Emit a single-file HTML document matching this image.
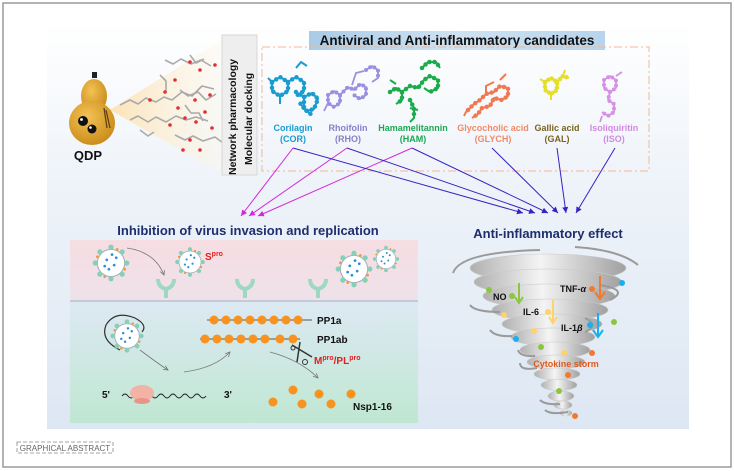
<!DOCTYPE html>
<html><head><meta charset="utf-8"><style>
html,body{margin:0;padding:0;background:#fff}
svg{display:block}
text{font-family:"Liberation Sans",Arial,sans-serif}
</style></head><body>
<svg width="734" height="471" viewBox="0 0 734 471" xmlns="http://www.w3.org/2000/svg">
<defs>
<linearGradient id="bg" x1="0" y1="0" x2="0" y2="1"><stop offset="0" stop-color="#ffffff"/><stop offset="0.4" stop-color="#eef3f9"/><stop offset="1" stop-color="#dde7f3"/></linearGradient>
<linearGradient id="pink" x1="0" y1="0" x2="0" y2="1"><stop offset="0" stop-color="#f6dde2"/><stop offset="1" stop-color="#eee2ea"/></linearGradient>
<linearGradient id="green" x1="0" y1="0" x2="0" y2="1"><stop offset="0" stop-color="#dde9f3"/><stop offset="1" stop-color="#bfe7d2"/></linearGradient>
<linearGradient id="bar" x1="0" y1="0" x2="1" y2="0"><stop offset="0" stop-color="#a9cbe6"/><stop offset="0.5" stop-color="#cfe2f2"/><stop offset="1" stop-color="#b7d4ec"/></linearGradient>
<linearGradient id="cone" x1="0" y1="0" x2="1" y2="0"><stop offset="0" stop-color="#fbe3b5"/><stop offset="1" stop-color="#fff7e8" stop-opacity="0.3"/></linearGradient>
<radialGradient id="gourd" cx="0.4" cy="0.35" r="0.7"><stop offset="0" stop-color="#f3c255"/><stop offset="1" stop-color="#c88a18"/></radialGradient>
<linearGradient id="torn" x1="0" y1="0" x2="1" y2="0"><stop offset="0" stop-color="#b0b0b0"/><stop offset="0.45" stop-color="#f4f4f4"/><stop offset="1" stop-color="#a0a0a0"/></linearGradient>
<marker id="am" markerWidth="8" markerHeight="8" refX="6" refY="3" orient="auto"><path d="M0,0 L6,3 L0,6 z" fill="#d22ad8"/></marker>
<marker id="ab" markerWidth="8" markerHeight="8" refX="6" refY="3" orient="auto"><path d="M0,0 L6,3 L0,6 z" fill="#3a22c0"/></marker>
<marker id="ag" markerWidth="8" markerHeight="8" refX="6" refY="3" orient="auto"><path d="M0,0 L6,3 L0,6" fill="none" stroke="#777" stroke-width="1"/></marker>
<g id="virus">
 <circle r="13" fill="#fff" stroke="#aab" stroke-width="1"/>
 <g fill="#86d0b8"><circle cx="0" cy="-15" r="2.5"/><circle cx="0" cy="15" r="2.5"/><circle cx="15" cy="0" r="2.5"/><circle cx="-15" cy="0" r="2.5"/><circle cx="10.6" cy="10.6" r="2.5"/><circle cx="-10.6" cy="10.6" r="2.5"/><circle cx="10.6" cy="-10.6" r="2.5"/><circle cx="-10.6" cy="-10.6" r="2.5"/></g>
 <g fill="#f09a3a"><circle cx="6" cy="-13" r="1.3"/><circle cx="-6" cy="13" r="1.3"/><circle cx="13" cy="6" r="1.3"/><circle cx="-13" cy="-6" r="1.3"/></g>
 <g fill="#2a8fd8"><circle cx="-4" cy="-3" r="1.3"/><circle cx="3" cy="2" r="1.3"/><circle cx="-2" cy="6" r="1.3"/><circle cx="5" cy="-5" r="1.3"/><circle cx="-6" cy="3" r="1.3"/><circle cx="1" cy="-8" r="1.3"/></g>
</g>
<g id="rec"><path d="M-8,-8 Q-8,0 0,2 Q8,0 8,-8" fill="none" stroke="#9ed8c0" stroke-width="4"/><rect x="-2" y="1" width="4" height="10" fill="#9ed8c0"/></g>
</defs>

<rect x="3" y="3" width="728" height="464" fill="#fff" stroke="#9a9a9a" stroke-width="1.5"/>
<rect x="47" y="22" width="642" height="407" fill="url(#bg)"/>

<!-- gourd & cone -->
<polygon points="110,110 225,38 225,175" fill="url(#cone)"/>
<g stroke="#aaa" stroke-width="1.6" fill="none" stroke-linejoin="round">
 <path d="M120,105 l10,-5 l8,4 l8,-6 l10,4 l8,-5 l8,3 l10,-8 l10,4 l10,-10 l12,3"/>
 <path d="M130,120 l8,-4 l10,6 l8,-5 l10,5 l10,-6 l10,4 l10,-3 l12,4"/>
 <path d="M165,60 l8,4 l8,-5 l10,5 l10,-4 l10,6 M190,55 l6,8 l8,-4"/>
 <path d="M175,135 l10,5 l8,-4 l10,5 l12,-4 l8,6"/>
 <path d="M180,90 l8,6 l10,-4 l8,8 l10,-6 M185,105 l6,8 l8,0 l4,8"/>
 <path d="M160,75 l6,6 l0,10 M140,130 l8,6 l6,-4"/>
</g>
<g fill="#e03030">
 <circle cx="190" cy="62" r="1.8"/><circle cx="200" cy="70" r="1.8"/><circle cx="215" cy="65" r="1.8"/><circle cx="195" cy="100" r="1.8"/><circle cx="205" cy="112" r="1.8"/><circle cx="185" cy="118" r="1.8"/><circle cx="212" cy="128" r="1.8"/><circle cx="190" cy="140" r="1.8"/><circle cx="200" cy="150" r="1.8"/><circle cx="165" cy="92" r="1.8"/><circle cx="175" cy="80" r="1.8"/><circle cx="150" cy="100" r="1.8"/><circle cx="210" cy="95" r="1.8"/><circle cx="183" cy="150" r="1.8"/><circle cx="178" cy="108" r="1.8"/><circle cx="196" cy="122" r="1.8"/><circle cx="170" cy="125" r="1.8"/>
</g>
<rect x="92" y="72" width="5" height="6" fill="#222"/>
<ellipse cx="94" cy="96" rx="13" ry="17" fill="url(#gourd)"/>
<ellipse cx="92" cy="123" rx="23" ry="22" fill="url(#gourd)"/>
<circle cx="83" cy="121" r="5" fill="#111"/><circle cx="92" cy="129" r="4.5" fill="#111"/>
<circle cx="81.5" cy="119.5" r="1.4" fill="#fff"/><circle cx="90.5" cy="127.5" r="1.3" fill="#fff"/>
<path d="M104,108 l3,20 M106,110 l4,18" stroke="#5a3a10" stroke-width="1.2"/>
<text x="88" y="160" font-size="13" font-weight="bold" text-anchor="middle" fill="#111">QDP</text>

<!-- network box -->
<rect x="222" y="35" width="35" height="140" fill="#eeeeee" stroke="#d8d8d8"/>
<text transform="translate(236,175) rotate(-90)" font-size="10.5" font-weight="bold" fill="#111">Network  pharmacology</text>
<text transform="translate(252,165) rotate(-90)" font-size="10.5" font-weight="bold" fill="#111">Molecular  docking</text>

<!-- title bar -->
<rect x="309" y="31" width="296" height="19" fill="url(#bar)"/>
<text x="457" y="45" font-size="13.5" font-weight="bold" text-anchor="middle" fill="#111">Antiviral and Anti-inflammatory  candidates</text>
<rect x="262" y="47" width="387" height="124" fill="none" stroke="#f3b993" stroke-width="1" stroke-dasharray="8,3,2,3"/>

<!-- molecules -->
<g fill="none" stroke-linejoin="round">
 <g stroke="#1a9ccf">
  <path stroke-width="2" d="M272,82 l8,-5 l8,5 l0,9 l-8,5 l-8,-5z M288,82 l8,-5 l8,5 l0,9 l-8,5 M296,92 l8,5 l8,-4 l6,6 l-4,10 l-8,2 l-6,-8 M296,68 l5,-6 l6,4 M304,97 l0,12 l8,6 M280,96 l0,8 M272,82 l-4,-4"/>
  <path stroke-width="4.5" stroke-linecap="round" stroke-dasharray="0 5" d="M272,82 l8,-5 l8,5 l0,9 l-8,5 l-8,-5z M288,82 l8,-5 l8,5 l0,9 l-8,5 M296,92 l8,5 l8,-4 l6,6 l-4,10 l-8,2 l-6,-8 M304,97 l0,12 l8,6"/>
 </g>
 <g stroke="#9a8fe0">
  <path stroke-width="1.8" d="M328,95 l6,-4 l6,4 l0,8 l-6,4 l-6,-4z M340,95 l8,-8 l6,3 l6,-6 l6,3 l0,8 l-6,4 l-6,-4 M352,85 l4,-12 l8,-2 M366,70 l6,-4 l6,4 l0,8 l-6,4 M328,103 l-4,8"/>
  <path stroke-width="4" stroke-linecap="round" stroke-dasharray="0 5" d="M328,95 l6,-4 l6,4 l0,8 l-6,4 l-6,-4z M340,95 l8,-8 l6,3 l6,-6 l6,3 l0,8 l-6,4 l-6,-4 M366,70 l6,-4 l6,4 l0,8"/>
 </g>
 <g stroke="#1bab4a">
  <path stroke-width="2" d="M390,92 l6,-4 l6,4 l0,8 l-6,4 M402,92 l8,-6 l8,2 l6,-8 l6,-4 l8,4 l0,8 l-8,4 l-6,-4 M410,100 l4,8 l0,10 l-4,4 M396,84 l-6,-4 M422,68 l6,-6 l8,0 l4,6 M410,108 l8,2"/>
  <path stroke-width="4.5" stroke-linecap="round" stroke-dasharray="0 5" d="M390,92 l6,-4 l6,4 l0,8 l-6,4 M402,92 l8,-6 l8,2 l6,-8 l6,-4 l8,4 l0,8 l-8,4 M410,100 l4,8 l0,10 M422,68 l6,-6 l8,0 l4,6"/>
 </g>
 <g stroke="#ee7a54">
  <path stroke-width="2" d="M468,110 l6,-6 l6,-4 l6,-6 l8,-2 l6,-6 l8,2 l0,8 l-6,4 l-8,-2 l-4,8 l-8,2 l-4,6 l-6,4 M500,80 l6,-6 M486,94 l0,-8 l8,-4 M470,108 l-4,4 l-2,4"/>
  <path stroke-width="4.5" stroke-linecap="round" stroke-dasharray="0 5" d="M468,110 l6,-6 l6,-4 l6,-6 l8,-2 l6,-6 l8,2 l0,8 l-6,4 l-8,-2 l-4,8 l-8,2 l-4,6 l-6,4"/>
 </g>
 <g stroke="#e6df2a">
  <path stroke-width="2" d="M545,82 l6,-4 l6,4 l0,8 l-6,4 l-6,-4z M557,82 l6,-6 l6,2 M551,94 l0,6 M563,76 l2,-6 M545,82 l-5,-3"/>
  <path stroke-width="4.5" stroke-linecap="round" stroke-dasharray="0 4" d="M545,82 l6,-4 l6,4 l0,8 l-6,4 l-6,-4z M557,82 l6,-6 l6,2"/>
 </g>
 <g stroke="#d690e6">
  <path stroke-width="1.8" d="M604,80 l6,-4 l6,4 l0,8 l-6,4 l-6,-4z M610,92 l-2,8 l6,4 l0,8 l-6,4 l-6,-4 M616,76 l6,-4 M602,116 l-2,6"/>
  <path stroke-width="4" stroke-linecap="round" stroke-dasharray="0 5" d="M604,80 l6,-4 l6,4 l0,8 l-6,4 l-6,-4z M610,92 l-2,8 l6,4 l0,8 l-6,4 l-6,-4"/>
 </g>
</g>
<g font-size="9" font-weight="bold" text-anchor="middle">
 <text x="293" y="131" fill="#1a9ccf">Corilagin</text><text x="293" y="142" fill="#1a9ccf">(COR)</text>
 <text x="348" y="131" fill="#8a7ec8">Rhoifolin</text><text x="348" y="142" fill="#8a7ec8">(RHO)</text>
 <text x="413" y="131" fill="#1aa850">Hamamelitannin</text><text x="413" y="142" fill="#1aa850">(HAM)</text>
 <text x="493" y="131" fill="#f08a68">Glycocholic acid</text><text x="493" y="142" fill="#f08a68">(GLYCH)</text>
 <text x="557" y="131" fill="#7a6420">Gallic acid</text><text x="557" y="142" fill="#7a6420">(GAL)</text>
 <text x="614" y="131" fill="#d28ae0">Isoliquiritin</text><text x="614" y="142" fill="#d28ae0">(ISO)</text>
</g>

<!-- arrows -->
<g stroke="#d22ad8" stroke-width="1" fill="none" marker-end="url(#am)">
 <line x1="293" y1="148" x2="241" y2="216"/>
 <line x1="347" y1="148" x2="249" y2="216"/>
 <line x1="412" y1="148" x2="258" y2="216"/>
</g>
<g stroke="#3a22c0" stroke-width="1" fill="none" marker-end="url(#ab)">
 <line x1="293" y1="148" x2="523" y2="213"/>
 <line x1="347" y1="148" x2="535" y2="213"/>
 <line x1="412" y1="148" x2="548" y2="213"/>
 <line x1="492" y1="148" x2="558" y2="213"/>
 <line x1="557" y1="148" x2="566" y2="213"/>
 <line x1="615" y1="148" x2="576" y2="213"/>
</g>

<!-- left panel -->
<text x="248" y="235" font-size="13" font-weight="bold" text-anchor="middle" fill="#1e2d6b">Inhibition of  virus invasion and replication</text>
<rect x="70" y="240" width="348" height="60" fill="url(#pink)"/>
<rect x="70" y="301" width="348" height="122" fill="url(#green)"/>
<line x1="70" y1="301" x2="418" y2="301" stroke="#a8a8b4" stroke-width="1"/>
<use href="#virus" transform="translate(111,263) scale(1.05)"/>
<use href="#virus" transform="translate(190,262) scale(0.85)"/>
<use href="#virus" transform="translate(354,269) scale(1.05)"/>
<use href="#virus" transform="translate(386,259) scale(0.75)"/>
<path d="M127,248 Q155,252 164,275" stroke="#777" fill="none" stroke-width="0.8" marker-end="url(#ag)"/>
<text x="205" y="260" font-size="10" font-weight="bold" fill="#e02020">S<tspan font-size="7" dy="-4">pro</tspan></text>
<use href="#rec" transform="translate(166,287)"/><use href="#rec" transform="translate(245,287)"/><use href="#rec" transform="translate(318,287)"/>
<path d="M120,350 Q100,340 106,325 Q115,310 135,318 Q148,325 142,332" fill="none" stroke="#333" stroke-width="1.2"/>
<use href="#virus" transform="translate(127,336) scale(0.95)"/>
<path d="M140,350 Q160,365 168,370" stroke="#777" fill="none" stroke-width="0.8" marker-end="url(#ag)"/>
<path d="M184,372 Q215,368 230,352" stroke="#777" fill="none" stroke-width="0.8" marker-end="url(#ag)"/>
<path d="M270,352 Q300,360 318,378" stroke="#777" fill="none" stroke-width="0.8" marker-end="url(#ag)"/>
<line x1="207" y1="320" x2="312" y2="320" stroke="#555" stroke-width="1"/>
<g fill="#f7931e"><circle cx="214" cy="320" r="4.5"/><circle cx="226" cy="320" r="4.5"/><circle cx="238" cy="320" r="4.5"/><circle cx="250" cy="320" r="4.5"/><circle cx="262" cy="320" r="4.5"/><circle cx="274" cy="320" r="4.5"/><circle cx="286" cy="320" r="4.5"/><circle cx="298" cy="320" r="4.5"/></g>
<line x1="200" y1="339" x2="300" y2="339" stroke="#555" stroke-width="1"/>
<g fill="#f7931e"><circle cx="205" cy="339" r="4.5"/><circle cx="217" cy="339" r="4.5"/><circle cx="229" cy="339" r="4.5"/><circle cx="241" cy="339" r="4.5"/><circle cx="253" cy="339" r="4.5"/><circle cx="265" cy="339" r="4.5"/><circle cx="280" cy="339" r="4.5"/><circle cx="293" cy="339" r="4.5"/></g>
<text x="317" y="324" font-size="10" font-weight="bold" fill="#111">PP1a</text>
<text x="317" y="343" font-size="10" font-weight="bold" fill="#111">PP1ab</text>
<path d="M292,345 L312,357 M300,342 L297,362" stroke="#333" stroke-width="1.5"/>
<circle cx="305" cy="362" r="2.5" fill="none" stroke="#333"/><circle cx="293" cy="348" r="2" fill="none" stroke="#333"/>
<text x="314" y="364" font-size="10" font-weight="bold" fill="#e02020">M<tspan font-size="7" dy="-4">pro</tspan><tspan dy="4">/PL</tspan><tspan font-size="7" dy="-4">pro</tspan></text>
<text x="102" y="398" font-size="10" font-weight="bold" fill="#111">5'</text>
<path d="M122,396 q3,-4 6,0 q3,4 6,0 q3,-4 6,0 q3,4 6,0 q3,-4 6,0 q3,4 6,0 q3,-4 6,0 q3,4 6,0 q3,-4 6,0 q3,4 6,0 q3,-4 6,0 q3,4 6,0 q3,-4 6,0 q3,4 6,0" fill="none" stroke="#222" stroke-width="0.9"/>
<ellipse cx="142" cy="393" rx="12" ry="8" fill="#f2b2a6"/><ellipse cx="142" cy="401" rx="8" ry="3" fill="#e89486"/>
<text x="224" y="398" font-size="10" font-weight="bold" fill="#111">3'</text>
<g fill="#f7931e"><circle cx="293" cy="390" r="4.5"/><circle cx="319" cy="394" r="4.5"/><circle cx="351" cy="394" r="4.5"/><circle cx="273" cy="402" r="4.5"/><circle cx="302" cy="404" r="4.5"/><circle cx="331" cy="404" r="4.5"/></g>
<text x="353" y="410" font-size="10" font-weight="bold" fill="#111">Nsp1-16</text>

<!-- tornado -->
<text x="548" y="238" font-size="13" font-weight="bold" text-anchor="middle" fill="#1e2d6b">Anti-inflammatory effect</text>
<g fill="url(#torn)" stroke="#c8c8c8" stroke-width="0.6">
 <ellipse cx="548" cy="268" rx="78" ry="14"/>
 <ellipse cx="548" cy="282" rx="74" ry="13"/>
 <ellipse cx="549" cy="296" rx="66" ry="12"/>
 <ellipse cx="550" cy="310" rx="58" ry="11"/>
 <ellipse cx="552" cy="324" rx="50" ry="10"/>
 <ellipse cx="553" cy="337" rx="42" ry="9"/>
 <ellipse cx="555" cy="350" rx="35" ry="8"/>
 <ellipse cx="556" cy="362" rx="29" ry="7"/>
 <ellipse cx="557" cy="374" rx="23" ry="6"/>
 <ellipse cx="559" cy="385" rx="18" ry="5.5"/>
 <ellipse cx="561" cy="396" rx="13" ry="5"/>
 <ellipse cx="563" cy="405" rx="9" ry="4"/>
 <ellipse cx="566" cy="413" rx="6" ry="3"/>
</g>
<g fill="none" stroke="#9a9a9a" stroke-width="2">
 <path d="M453,273 Q460,252 540,250"/><path d="M575,247 Q620,250 638,265"/>
 <path d="M470,305 Q475,312 500,312"/><path d="M600,285 Q630,290 610,300"/>
 <path d="M490,330 Q495,337 512,336"/><path d="M585,318 Q600,325 585,332"/>
 <path d="M518,350 Q520,357 535,356"/><path d="M520,363 Q520,371 537,368"/>
 <path d="M540,400 Q545,405 560,404"/><path d="M545,410 Q550,415 568,412"/>
</g>
<g font-size="9" font-weight="bold" fill="#111"><text x="493" y="300">NO</text><text x="523" y="315">IL-6</text><text x="560" y="292">TNF-<tspan font-style="italic">α</tspan></text><text x="561" y="331">IL-1<tspan font-style="italic">β</tspan></text></g>
<text x="566" y="367" font-size="9" font-weight="bold" fill="#e05a20" text-anchor="middle">Cytokine storm</text>
<g stroke-width="2" fill="none">
 <path d="M519,283 L519,302 M515,297 L519,303 L523,297" stroke="#8cc63f"/>
 <path d="M553,300 L553,322 M549,317 L553,323 L557,317" stroke="#fdd36a"/>
 <path d="M600,276 L600,298 M595,292 L600,299 L605,292" stroke="#f07a30"/>
 <path d="M598,313 L598,336 M593,330 L598,337 L603,330" stroke="#1ab0f0"/>
</g>
<g>
 <circle cx="489" cy="290" r="3" fill="#8cc63f"/><circle cx="512" cy="296" r="3" fill="#8cc63f"/><circle cx="548" cy="312" r="3" fill="#fdd36a"/>
 <circle cx="592" cy="289" r="3" fill="#f07a30"/><circle cx="622" cy="283" r="3" fill="#1ab0f0"/><circle cx="504" cy="315" r="3" fill="#fdd36a"/>
 <circle cx="590" cy="325" r="3" fill="#1ab0f0"/><circle cx="614" cy="322" r="3" fill="#8cc63f"/><circle cx="534" cy="331" r="3" fill="#fdd36a"/>
 <circle cx="516" cy="339" r="3" fill="#1ab0f0"/><circle cx="541" cy="347" r="3" fill="#8cc63f"/><circle cx="564" cy="353" r="3" fill="#fdd36a"/>
 <circle cx="592" cy="353" r="3" fill="#f07a30"/><circle cx="568" cy="375" r="3" fill="#f07a30"/><circle cx="559" cy="391" r="3" fill="#8cc63f"/>
 <circle cx="575" cy="416" r="3" fill="#f07a30"/>
</g>

<!-- footer -->
<rect x="17" y="442" width="96" height="11" fill="none" stroke="#888" stroke-width="0.8" stroke-dasharray="4,2"/>
<text x="65" y="451" font-size="8" text-anchor="middle" fill="#666">GRAPHICAL ABSTRACT</text>
</svg>
</body></html>
